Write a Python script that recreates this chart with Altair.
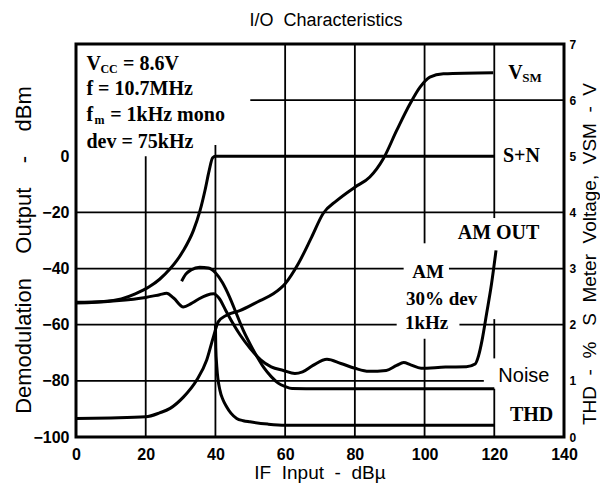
import altair as alt
import pandas as pd

# ---------------- data ----------------
X_TICKS = [0, 20, 40, 60, 80, 100, 120, 140]
LEFT_TICKS = [-100, -80, -60, -40, -20, 0]          # dBm
RIGHT_TICKS = [0, 1, 2, 3, 4, 5, 6, 7]              # V / %

# S+N (dBm)
sn_x = [0, 8, 13, 17, 21, 24, 27, 29, 30.8, 33.7, 35.6, 37, 38.2, 39.2, 40, 120]
sn_y = [-52, -51.7, -50.8, -49, -46.5, -43.8, -40.1, -37, -33.6, -26.4, -19.3, -12.2, -5.1, -0.5, 0, 0]

# AM / AM OUT (dBm)
am_x = [0, 10, 20, 24, 26, 28, 30.8, 33, 35, 37.5, 39.5, 41, 43, 45, 47, 50, 53, 56, 59.5,
        62.8, 65, 68, 72, 76, 80, 84, 89, 92, 94, 96, 99, 106, 112, 114.5, 115.5, 116.5,
        117.8, 119.2, 120.5]
am_y = [-52.3, -51.6, -50.3, -49.3, -48.8, -50.5, -53.7, -52.5, -51, -49.5, -49, -50.5, -55,
        -59.5, -63.5, -68.5, -72.5, -75, -76.3, -77.4, -76.8, -74.5, -72.3, -73.8, -75.5,
        -76.6, -76.3, -74.5, -73.5, -74.3, -75.5, -75.1, -75, -74, -71, -65.5, -56, -45.5, -33.5]

# Noise (dBm)
noise_x = [30.3, 31.5, 33, 35.5, 38, 40, 42, 44, 46, 48, 50, 52, 54, 56, 58, 60, 62, 70, 120]
noise_y = [-44.5, -42, -40.5, -39.5, -39.8, -41.5, -45, -50, -56, -62, -67, -71.5, -75.5,
           -78.5, -80.8, -82, -82.7, -82.8, -82.8]

# S meter voltage VSM (V)
vsm_x = [0, 10, 20, 24, 27, 30.8, 34.6, 37.5, 39.4, 40.8, 43.2, 47, 52.8, 56.6, 60, 63.8, 67.6,
         70.9, 74.8, 80, 84.3, 88.2, 92, 95.8, 98.7, 101.5, 105.4, 119.7]
vsm_v = [0.33, 0.34, 0.36, 0.43, 0.51, 0.71, 1.01, 1.37, 1.78, 2.05, 2.17, 2.25, 2.43, 2.55,
         2.73, 3.09, 3.56, 3.98, 4.21, 4.45, 4.63, 4.96, 5.46, 5.93, 6.23, 6.41, 6.47, 6.49]

# THD (%)
thd_x = [40, 40.1, 40.4, 41.3, 42.2, 43.2, 44.5, 46.1, 48, 49.9, 55, 60, 120]
thd_p = [2.0, 1.6, 1.25, 0.83, 0.66, 0.54, 0.42, 0.33, 0.29, 0.27, 0.23, 0.21, 0.21]

# grid segments (broken where the reference puts labels)
grid_v_x = [20, 40, 60, 80, 100, 100, 120, 120, 120]
grid_v_y1 = [-100, -100, -100, -100, -31, -100, -22, -72, -100]
grid_v_y2 = [0, 4, 40, 40, 40, -65, 40, -58, -82.8]
grid_h_y = [20, -20, -40, -40, -60, -60, -80]
grid_h_x1 = [50, 0, 0, 107, 0, 110, 0]
grid_h_x2 = [140, 140, 94, 140, 92, 140, 117]

# ---------------- build tables ----------------
def v_to_dbm(v):
    return v * 20 - 100

rows = []
for name, xs_, ys_ in [("S+N", sn_x, sn_y), ("AM", am_x, am_y), ("Noise", noise_x, noise_y)]:
    for i, (a, b) in enumerate(zip(xs_, ys_)):
        rows.append({"series": name, "x": a, "y": b, "i": i})
for name, xs_, vs_ in [("VSM", vsm_x, vsm_v), ("THD", thd_x, thd_p)]:
    for i, (a, b) in enumerate(zip(xs_, vs_)):
        rows.append({"series": name, "x": a, "y": v_to_dbm(b), "i": i})
curves = pd.DataFrame(rows)

gv = pd.DataFrame({"x": grid_v_x, "y": grid_v_y1, "y2": grid_v_y2})
gh = pd.DataFrame({"y": grid_h_y, "x": grid_h_x1, "x2": grid_h_x2})
right = pd.DataFrame({"y": [v_to_dbm(v) for v in RIGHT_TICKS]})

xs = alt.Scale(domain=[0, 140], nice=False, zero=False)
ys = alt.Scale(domain=[-100, 40], nice=False, zero=False)

x_axis = alt.Axis(values=X_TICKS, title=None, grid=False, domain=False, ticks=False,
                  orient="bottom", labelFont="Liberation Sans", labelFontWeight="bold",
                  labelFontSize=16, labelColor="black", labelPadding=9, labelFlush=False)
left_axis = alt.Axis(values=LEFT_TICKS, title=None, grid=False, domain=False, ticks=False,
                     orient="left", labelFont="Liberation Sans", labelFontWeight="bold",
                     labelFontSize=16, labelColor="black", labelPadding=7)
right_axis = alt.Axis(values=[v_to_dbm(v) for v in RIGHT_TICKS], title=None, grid=False,
                      domain=False, ticks=False, orient="right",
                      labelExpr="(datum.value + 100) / 20",
                      labelFont="Liberation Sans", labelFontWeight="bold",
                      labelFontSize=12, labelColor="black", labelPadding=5)

vgrid = alt.Chart(gv).mark_rule(color="black", strokeWidth=1.8).encode(
    x=alt.X("x:Q", scale=xs, axis=x_axis),
    y=alt.Y("y:Q", scale=ys, axis=left_axis),
    y2="y2:Q",
)
hgrid = alt.Chart(gh).mark_rule(color="black", strokeWidth=1.8).encode(
    x=alt.X("x:Q", scale=xs, axis=None),
    x2="x2:Q",
    y=alt.Y("y:Q", scale=ys, axis=None),
)
lines = alt.Chart(curves).mark_line(color="black", strokeWidth=3, interpolate="monotone").encode(
    x=alt.X("x:Q", scale=xs, axis=None),
    y=alt.Y("y:Q", scale=ys, axis=None),
    detail="series:N",
    order="i:Q",
)
raxis = alt.Chart(right).mark_point(opacity=0).encode(
    x=alt.value(0),
    y=alt.Y("y:Q", scale=ys, axis=right_axis),
)

def texts(labels, xs_, ys_, font, size, weight="bold", align="left"):
    df = pd.DataFrame({"t": labels, "x": xs_, "y": ys_})
    return alt.Chart(df).mark_text(font=font, fontSize=size, fontWeight=weight,
                                   align=align, baseline="middle", color="black").encode(
        x=alt.X("x:Q", scale=xs, axis=None),
        y=alt.Y("y:Q", scale=ys, axis=None),
        text="t:N",
    )

SERIF = "Liberation Serif"
SANS = "Liberation Sans"
S = "\u00a0"

box_main = texts(["V", "= 8.6V", "f = 10.7MHz", "f", "= 1kHz mono", "dev = 75kHz"],
                 [3, 13.5, 3, 3, 9.8, 3], [33, 33, 24, 14.8, 14.8, 5.2], SERIF, 20)
box_sub = texts(["CC", "m"], [7, 5.3], [31.2, 13.0], SERIF, 12)
lab_big = texts(["V", "S+N", "AM OUT", "THD"], [124, 122.5, 109.5, 124.5],
                [29.5, 0, -27.5, -92.3], SERIF, 20)
lab_sub = texts(["SM"], [128], [27.8], SERIF, 13)
lab_am = texts(["AM", "30% dev", "1kHz"], [101, 104.9, 100.6], [-41.3, -51, -59.5],
               SERIF, 19, align="center")
lab_noise = texts(["Noise"], [128.5], [-78.3], SANS, 20, weight="normal", align="center")

def ptext(label, px, py, size, angle=0, weight="normal"):
    return alt.Chart(pd.DataFrame({"t": [label]})).mark_text(
        font=SANS, fontSize=size, fontWeight=weight, angle=angle, align="center",
        baseline="middle", color="black").encode(
        x=alt.value(px), y=alt.value(py), text="t:N")

title = ptext("I/O" + S * 2 + "Characteristics", 250, -23, 18)
xtitle = ptext("IF" + S * 2 + "Input" + S * 2 + "-" + S * 2 + "dBµ", 244, 429, 19)
ltitle = ptext(("Demodulation" + S * 4 + "Output" + S * 4 + "-" + S * 4 + "dBm"),
               -52, 206, 22, angle=270)
rtitle = ptext(("THD" + S * 2 + "-" + S * 2 + "%" + S * 3 + "S" + S * 2 + "Meter" + S * 2 +
                "Voltage," + S * 2 + "VSM" + S * 2 + "-" + S * 2 + "V"),
               514, 210, 19, angle=270)

chart = alt.layer(
    vgrid, hgrid, lines, raxis, box_main, box_sub, lab_big, lab_sub, lab_am, lab_noise,
    title, xtitle, ltitle, rtitle,
).resolve_axis(x="independent", y="independent").properties(
    width=488, height=393,
    autosize=alt.AutoSizeParams(type="none"),
    padding={"left": 68, "top": 36, "right": 36, "bottom": 48},
    background="white",
).configure_view(stroke="black", strokeWidth=3)

chart.save("out.html", embed_options={"renderer": "svg", "actions": False})
